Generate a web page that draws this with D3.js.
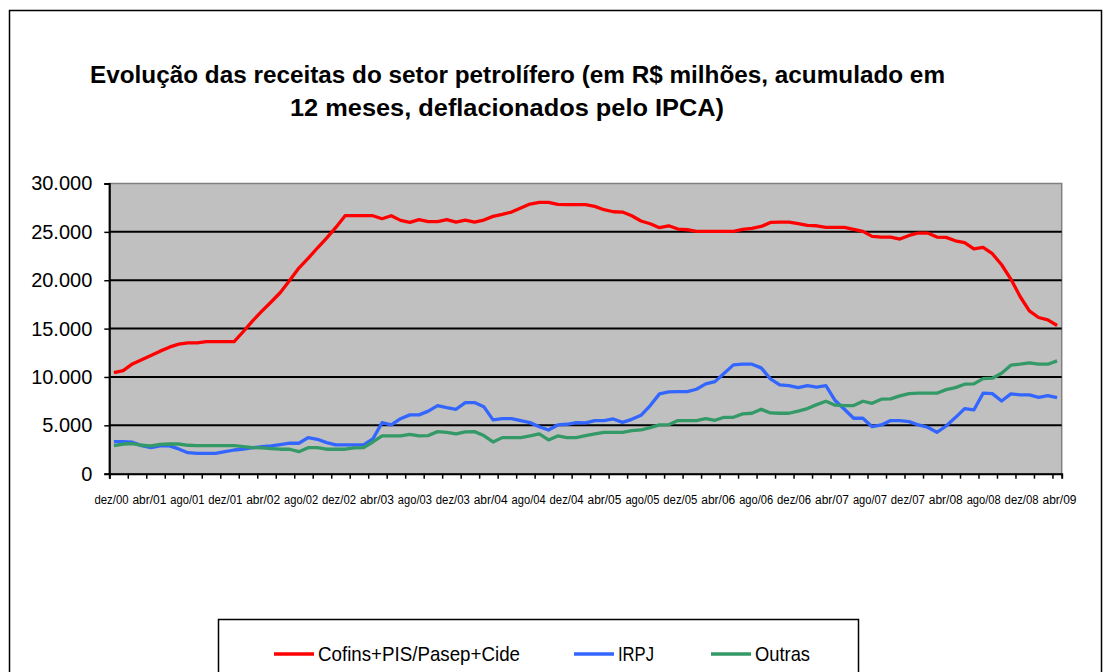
<!DOCTYPE html>
<html>
<head>
<meta charset="utf-8">
<script src="https://cdn.jsdelivr.net/npm/d3@7"></script>
<style>
  body { margin: 0; background: #fff; }
  svg { font-family: "Liberation Sans", Arial, sans-serif; }
</style>
</head>
<body>
<div id="wrapper"></div>
<script>
// one category per month, dez/00 .. jun/09
const monthNames = ["jan","fev","mar","abr","mai","jun","jul","ago","set","out","nov","dez"]
const months = d3.range(103).map(i => {
    const n = 2000 * 12 + 11 + i
    return monthNames[n % 12] + "/" + String(Math.floor(n / 12) % 100).padStart(2, "0")
})

const tickLabels = ["dez/00","abr/01","ago/01","dez/01","abr/02","ago/02","dez/02","abr/03","ago/03",
    "dez/03","abr/04","ago/04","dez/04","abr/05","ago/05","dez/05","abr/06","ago/06","dez/06",
    "abr/07","ago/07","dez/07","abr/08","ago/08","dez/08","abr/09"]

const yTicks = [0, 5000, 10000, 15000, 20000, 25000, 30000]

const cofins = [
    10450,10660,11350,11770,12210,12670,13080,13390,13520,13520,
    13660,13660,13660,13660,14700,15800,16800,17750,18730,19970,
    21260,22250,23330,24360,25460,26670,26670,26670,26670,26360,
    26670,26190,25980,26260,26060,26050,26260,26010,26220,26010,
    26220,26600,26810,27050,27460,27880,28050,28050,27840,27810,
    27810,27810,27630,27290,27080,27050,26670,26120,25840,25430,
    25630,25290,25220,25050,25050,25050,25050,25050,25250,25360,
    25560,25980,26010,26010,25840,25670,25630,25460,25460,25460,
    25250,25050,24530,24460,24460,24260,24630,24880,24880,24460,
    24430,24080,23880,23250,23390,22740,21600,20120,18320,16840,
    16150,15910,15320]

const irpj = [
    3310,3310,3250,2900,2690,2870,2870,2560,2170,2110,
    2110,2110,2280,2450,2530,2690,2790,2870,3000,3150,
    3150,3730,3560,3210,2970,2970,2970,2970,3590,5280,
    5040,5690,6080,6080,6470,7040,6830,6660,7350,7350,
    6930,5560,5690,5690,5490,5280,4860,4520,5040,5110,
    5280,5250,5490,5490,5660,5310,5620,6040,7040,8250,
    8460,8490,8490,8730,9280,9520,10390,11250,11320,11320,
    10940,9800,9180,9110,8900,9110,8940,9110,7560,6660,
    5730,5730,4860,5040,5490,5490,5380,5040,4800,4280,
    4930,5800,6730,6590,8320,8280,7520,8250,8150,8150,
    7900,8080,7870]

const outras = [
    2900,3070,3110,2940,2870,3040,3070,3070,2940,2900,
    2900,2900,2900,2900,2790,2690,2660,2590,2530,2530,
    2280,2690,2690,2530,2530,2530,2660,2690,3280,3900,
    3900,3900,4070,3900,3940,4350,4280,4110,4320,4350,
    3940,3280,3730,3730,3730,3900,4110,3490,3900,3730,
    3730,3940,4110,4280,4280,4280,4450,4520,4760,5040,
    5070,5490,5490,5490,5690,5520,5830,5830,6180,6250,
    6660,6280,6250,6250,6460,6730,7140,7490,7080,7040,
    7040,7490,7280,7700,7730,8040,8280,8320,8320,8320,
    8690,8900,9250,9280,9830,9870,10390,11220,11320,11460,
    11320,11320,11660]

const seriesNames = ["Cofins+PIS/Pasep+Cide", "IRPJ", "Outras"]
const seriesColors = ["#ff0000", "#3366ff", "#339966"]

function drawChart() {
    const dimensions = {
        width: 1111,
        height: 672,
        plot: { left: 109.3, right: 1061.7, top: 183.5, bottom: 473.7 }
    }
    const p = dimensions.plot

    const svg = d3.select("#wrapper")
        .append("svg")
            .attr("width", dimensions.width)
            .attr("height", dimensions.height)

    // chart area frame
    svg.append("rect")
        .attr("x", 9.5).attr("y", 10.5)
        .attr("width", 1092).attr("height", 720)
        .attr("fill", "#fff")
        .attr("stroke", "#000")
        .attr("stroke-width", 1.5)

    // title
    const title = svg.append("g")
        .attr("font-weight", "bold")
        .attr("font-size", 23)
    title.append("text")
        .attr("x", 90).attr("y", 83)
        .attr("textLength", 855).attr("lengthAdjust", "spacingAndGlyphs")
        .text("Evolução das receitas do setor petrolífero (em R$ milhões, acumulado em")
    title.append("text")
        .attr("x", 290).attr("y", 116)
        .attr("textLength", 434).attr("lengthAdjust", "spacingAndGlyphs")
        .text("12 meses, deflacionados pelo IPCA)")

    // scales
    const xScale = d3.scaleLinear()
        .domain([0, months.length])
        .range([p.left, p.right])
    const yScale = d3.scaleLinear()
        .domain([0, 30000])
        .range([p.bottom, p.top])
    const labelScale = d3.scalePoint()
        .domain(tickLabels)
        .range([111, 1059])

    // plot area
    svg.append("rect")
        .attr("x", p.left).attr("y", p.top)
        .attr("width", p.right - p.left).attr("height", p.bottom - p.top)
        .attr("fill", "#c0c0c0")
        .attr("stroke", "#808080")
        .attr("stroke-width", 1.5)

    // gridlines
    svg.append("g")
        .selectAll("line")
        .data(yTicks.filter(d => d > 0 && d < 30000))
        .join("line")
            .attr("x1", p.left).attr("x2", p.right)
            .attr("y1", d => yScale(d)).attr("y2", d => yScale(d))
            .attr("stroke", "#000")
            .attr("stroke-width", 2)

    // lines
    const lineGenerator = d3.line()
        .x((d, i) => xScale(i + 0.5))
        .y(d => yScale(d))

    const seriesData = [cofins, irpj, outras]
    svg.append("g")
        .selectAll("path")
        .data(seriesData)
        .join("path")
            .attr("d", d => lineGenerator(d))
            .attr("fill", "none")
            .attr("stroke", (d, i) => seriesColors[i])
            .attr("stroke-width", 3.3)
            .attr("stroke-linejoin", "round")

    // y axis
    const ptBR = d3.formatLocale({ decimal: ",", thousands: ".", grouping: [3], currency: ["R$", ""] })
    const yAxisGenerator = d3.axisLeft(yScale)
        .tickValues(yTicks)
        .tickFormat(ptBR.format(","))
        .tickSizeOuter(0)
        .tickSize(5)
        .tickPadding(12)
    const yAxis = svg.append("g")
        .attr("transform", `translate(${p.left},0)`)
        .call(yAxisGenerator)
    yAxis.select(".domain").attr("stroke-width", 2)
    yAxis.selectAll(".tick line").attr("stroke-width", 1.5)
    yAxis.selectAll("text")
        .attr("font-size", 20)
        .attr("font-family", "Liberation Sans, Arial, sans-serif")
        .attr("fill", "#000")

    // x axis: tick marks every two months
    const xAxisGenerator = d3.axisBottom(xScale)
        .tickValues(d3.range(0, months.length + 1, 2))
        .tickFormat("")
        .tickSizeOuter(0)
        .tickSize(5)
    const xAxis = svg.append("g")
        .attr("transform", `translate(0,${p.bottom})`)
        .call(xAxisGenerator)
    xAxis.select(".domain").attr("stroke-width", 2)
    xAxis.selectAll(".tick line").attr("stroke-width", 1.5)

    // x labels every four months
    const labelAxis = svg.append("g")
        .attr("transform", `translate(0,${p.bottom})`)
        .call(d3.axisBottom(labelScale).tickSize(0).tickPadding(21))
    labelAxis.select(".domain").remove()
    labelAxis.selectAll("text")
        .attr("font-size", 12.5)
        .attr("font-family", "Liberation Sans, Arial, sans-serif")
        .attr("textLength", 34)
        .attr("lengthAdjust", "spacingAndGlyphs")
        .attr("fill", "#000")

    // legend
    const legend = svg.append("g")
    legend.append("rect")
        .attr("x", 218.5).attr("y", 619.5)
        .attr("width", 640).attr("height", 80)
        .attr("fill", "#fff")
        .attr("stroke", "#000")
        .attr("stroke-width", 1.5)

    const legendItems = [
        { x: 274, width: 202 },
        { x: 574, width: 36 },
        { x: 711, width: 55 }
    ]
    const item = legend.selectAll("g.item")
        .data(seriesNames)
        .join("g")
            .attr("class", "item")
            .attr("transform", (d, i) => `translate(${legendItems[i].x},654)`)
    item.append("line")
        .attr("x1", 0).attr("x2", 40)
        .attr("stroke", (d, i) => seriesColors[i])
        .attr("stroke-width", 3.5)
    item.append("text")
        .attr("x", 44)
        .attr("dy", "0.35em")
        .attr("font-size", 21)
        .attr("textLength", (d, i) => legendItems[i].width)
        .attr("lengthAdjust", "spacingAndGlyphs")
        .text(d => d)
}

drawChart()
</script>
</body>
</html>
